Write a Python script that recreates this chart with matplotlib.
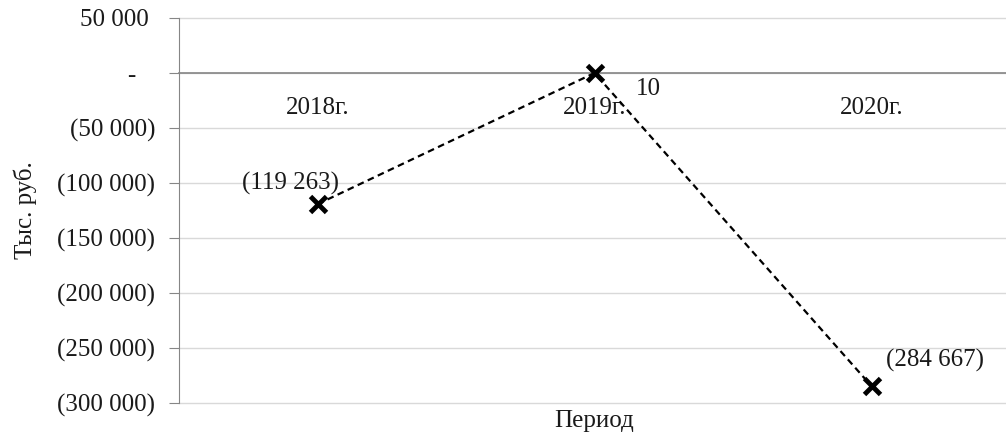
import matplotlib
matplotlib.use("Agg")
import matplotlib.pyplot as plt
from matplotlib.ticker import FuncFormatter, MultipleLocator

periods = ["2018г.", "2019г.", "2020г."]
values = [-119263, 10, -284667]
value_labels = ["(119 263)", "10", "(284 667)"]

plt.rcParams["font.family"] = ["Liberation Serif", "DejaVu Serif"]
FS = 18
TXT = "#1a1a1a"

fig = plt.figure(figsize=(10.06, 4.38), dpi=100)
ax = fig.add_axes([179 / 1006, 1 - 403 / 438, 831 / 1006, 385 / 438])

x = list(range(len(periods)))
ax.plot(x, values, linestyle=(0, (3, 2)), color="black", linewidth=1.6,
        marker="x", markersize=12, markeredgewidth=3.5, zorder=3,
        clip_on=False)

ax.set_xlim(-0.5, len(periods) - 0.5)
ax.set_ylim(-300000, 50000)
ax.yaxis.set_major_locator(MultipleLocator(50000))


def acct(v, pos):
    v = int(round(v))
    if v == 0:
        return "-   "
    s = f"{abs(v):,}".replace(",", " ")
    return f"({s})" if v < 0 else s + " "


ax.yaxis.set_major_formatter(FuncFormatter(acct))
ax.grid(axis="y", color="#d9d9d9", linewidth=1.0)
ax.set_axisbelow(True)
for gl in ax.get_ygridlines():
    gl.set_clip_on(False)

for side in ("top", "right"):
    ax.spines[side].set_visible(False)
ax.spines["left"].set_color("#868686")
ax.spines["bottom"].set_position(("data", 0))
ax.spines["bottom"].set_color("#868686")
ax.spines["bottom"].set_linewidth(1.2)

ax.tick_params(axis="y", length=7, color="#868686", labelsize=FS, pad=10,
               labelcolor=TXT)
ax.tick_params(axis="x", length=0, labelsize=FS, pad=17, labelcolor=TXT)
ax.set_xticks(x)
ax.set_xticklabels(periods)

ax.set_ylabel("Тыс. руб.", fontsize=FS, color=TXT, labelpad=15)
fig.text(594 / 1006, 1 - 421 / 438, "Период", fontsize=FS, color=TXT,
         ha="center", va="center")

offsets = [(-27, 21), (54, -16), (64, 26)]
for xi, v, lab, (dx, dy) in zip(x, values, value_labels, offsets):
    ax.annotate(lab, (xi, v), xytext=(dx, dy), textcoords="offset pixels",
                ha="center", va="center", fontsize=FS, color=TXT)

fig.savefig("out.png", dpi=100)
